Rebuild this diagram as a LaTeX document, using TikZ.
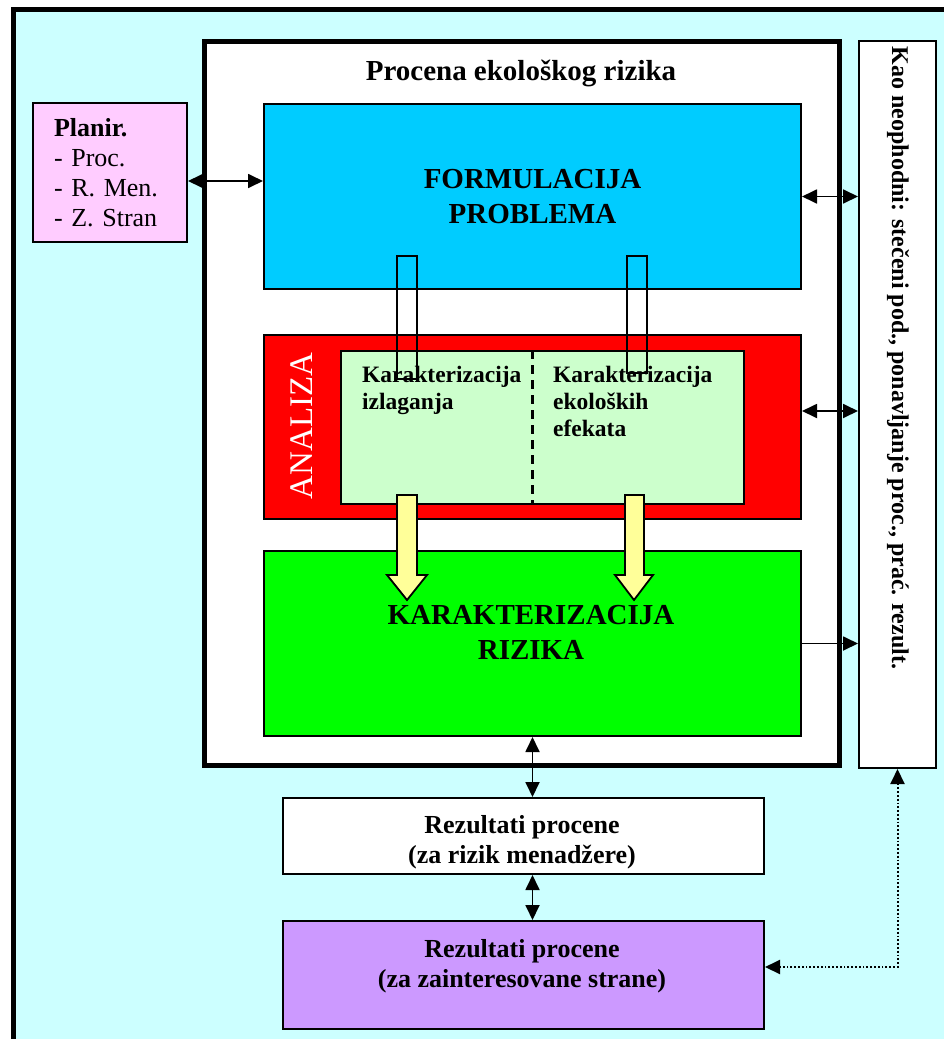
\documentclass[tikz,border=0pt]{standalone}
\usepackage{fontspec}
\setmainfont{Liberation Serif}
\usetikzlibrary{arrows.meta}
\definecolor{bgcyan}{HTML}{CCFFFF}
\definecolor{formblue}{HTML}{00CCFF}
\definecolor{panelgreen}{HTML}{CCFFCC}
\definecolor{riskgreen}{HTML}{00FF00}
\definecolor{planpink}{HTML}{FFCCFF}
\definecolor{respurple}{HTML}{CC99FF}
\definecolor{arrowyellow}{HTML}{FFFF99}
\tikzset{box/.style = {draw, line width=2pt, inner sep=0pt, anchor=north west},
         arrow/.style = {line width=1.8pt, <->, >={Triangle[length=15pt,width=14pt]}},
         fatarrow/.style = {draw, line width=1.8pt, fill=arrowyellow}}

\begin{document}
\begin{tikzpicture}[x=1pt,y=-1pt]
\clip (0,0) rectangle (944,1039);
\fill[white] (0,0) rectangle (944,1039);
% outer frame
\fill[bgcyan] (13.5,9.5) rectangle (1000,1100);
\draw[line width=5pt] (13.5,1100) |- (1000,9.5);
% assessment frame
\draw[line width=5pt, fill=white] (204.5,41) rectangle (839.5,765.5);
\node[font=\fontsize{29}{35}\selectfont\bfseries] (title) at (521,73) {Procena ekološkog rizika};

% boxes
\node[box, fill=planpink, minimum width=154pt, minimum height=139pt, text width=112pt, align=left,
      font=\fontsize{26}{30}\selectfont] (planir) at (32,102)
      {\textbf{Planir.}\\-~Proc.\\-~R. Men.\\-~Z. Stran};
\node[box, fill=formblue, minimum width=537pt, minimum height=185pt, align=center,
      font=\fontsize{29}{35}\selectfont\bfseries] (formul) at (263,103) {FORMULACIJA\\PROBLEMA};
\node[box, fill=red, minimum width=537pt, minimum height=184pt] (analiza) at (263,334) {};
\node[box, fill=panelgreen, minimum width=403pt, minimum height=153pt] (panel) at (340,350) {};
\node[box, fill=riskgreen, minimum width=537pt, minimum height=185pt] (rizik) at (263,550) {};
\node[box, fill=white, minimum width=77pt, minimum height=727pt] (side) at (858,40) {};
\node[box, fill=white, minimum width=481pt, minimum height=76pt] (rez1) at (282,797) {};
\node[box, fill=respurple, minimum width=481pt, minimum height=108pt] (rez2) at (282,920) {};

% analiza
\draw[line width=2.2pt, dash pattern=on 9pt off 6pt] (panel.north -| rizik.south) -- (panel.south -| rizik.south);
\draw[line width=1.8pt] (397,256) rectangle (417,379);
\draw[line width=1.8pt] (627,256) rectangle (647,373);
\node[rotate=90, text=white, font=\fontsize{33}{33}\selectfont] (anlabel) at (302,426) {ANALIZA};
\node[anchor=north west, inner sep=0pt, align=left, font=\fontsize{23.5}{27}\selectfont\bfseries]
      (izlag) at (362,366) {Karakterizacija\\izlaganja};
\node[anchor=north west, inner sep=0pt, align=left, font=\fontsize{23.5}{27}\selectfont\bfseries]
      (efekti) at (553,366) {Karakterizacija\\ekoloških\\efekata};
\draw[fatarrow] (397,495) -- (417,495) -- (417,575) -- (427,575) -- (407,600) -- (387,575) -- (397,575) -- cycle;
\draw[fatarrow] (625,495) -- (644,495) -- (644,575) -- (653,575) -- (634,600) -- (615,575) -- (625,575) -- cycle;

% texts
\node[align=center, font=\fontsize{29}{35}\selectfont\bfseries] (riztxt) at (531,632) {KARAKTERIZACIJA\\RIZIKA};
\node[rotate=-90, font=\fontsize{24}{28}\selectfont\bfseries] (sidetxt) at (898,358)
      {Kao neophodni: stečeni pod., ponavljanje proc., prać. rezult.};
\node[align=center, font=\fontsize{26}{30}\selectfont\bfseries] (rez1txt) at (522,842) {Rezultati procene\\(za rizik menadžere)};
\node[align=center, font=\fontsize{26}{30}\selectfont\bfseries] (rez2txt) at (522,966) {Rezultati procene\\(za zainteresovane strane)};

% connectors
\draw[arrow] ([yshift=-8.5pt]planir.east) -- ([yshift=-8.5pt]planir.east -| formul.west);
\draw[arrow] (formul.east) -- (formul.east -| side.west);
\draw[arrow] ([yshift=16pt]analiza.east) -- ([yshift=16pt]analiza.east -| side.west);
\draw[arrow, <-] (rizik.east -| side.west) -- (rizik.east);
\draw[arrow] (rizik.south) -- (rizik.south |- rez1.north);
\draw[arrow] (rez1.south -| rizik.south) -- (rez2.north -| rizik.south);
\draw[arrow, dotted, line width=2pt] (side.south) |- ([yshift=8pt]rez2.east);
\end{tikzpicture}
\end{document}
